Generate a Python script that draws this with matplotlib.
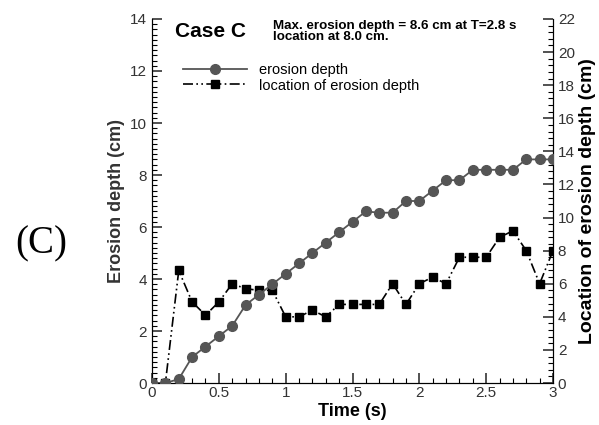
import numpy as np
import matplotlib.pyplot as plt
from matplotlib.ticker import MultipleLocator

# 时间 (s)
t = [0.0, 0.1, 0.2, 0.3, 0.4, 0.5, 0.6, 0.7, 0.8, 0.9, 1.0,
     1.1, 1.2, 1.3, 1.4, 1.5, 1.6, 1.7, 1.8, 1.9, 2.0,
     2.1, 2.2, 2.3, 2.4, 2.5, 2.6, 2.7, 2.8, 2.9, 3.0]
# 冲刷深度 (cm)
depth = [0.0, 0.0, 0.15, 1.0, 1.4, 1.8, 2.2, 3.0, 3.4, 3.8, 4.2,
         4.6, 5.0, 5.4, 5.8, 6.2, 6.6, 6.55, 6.55, 7.0, 7.0,
         7.4, 7.8, 7.8, 8.2, 8.2, 8.2, 8.2, 8.6, 8.6, 8.6]
# 冲刷位置 (cm)
location = [0.0, 0.0, 6.8, 4.9, 4.1, 4.9, 6.0, 5.7, 5.6, 5.6, 4.0,
            4.0, 4.4, 4.0, 4.75, 4.75, 4.75, 4.75, 6.0, 4.75, 6.0,
            6.4, 6.0, 7.6, 7.6, 7.6, 8.8, 9.2, 8.0, 6.0, 8.0]

plt.rcParams['font.family'] = ['Liberation Sans', 'DejaVu Sans']
plt.rcParams['xtick.direction'] = 'in'
plt.rcParams['ytick.direction'] = 'in'

fig = plt.figure(figsize=(5.99, 4.25), dpi=100)
ax = fig.add_axes([0.2538, 0.0988, 0.6694, 0.8565])
ax2 = ax.twinx()

l1, = ax.plot(t, depth, color='#555555', lw=1.3, marker='o', ms=7,
              mfc='#555555', mec='#555555', label='erosion depth', zorder=3)
l2, = ax2.plot(t, location, color='black', lw=1.2, linestyle=(0, (6, 2, 1, 2, 1, 2)),
               marker='s', ms=5.5, mfc='black', mec='black',
               label='location of erosion depth')

ax.set_xlim(0, 3)
ax.set_ylim(0, 14)
ax2.set_ylim(0, 22)
for a in (ax, ax2):
    a.spines['top'].set_visible(False)
ax.set_zorder(1)
ax2.set_zorder(0)
ax.patch.set_visible(False)

ax.xaxis.set_major_locator(MultipleLocator(0.5))
ax.xaxis.set_minor_locator(MultipleLocator(0.1))
ax.yaxis.set_major_locator(MultipleLocator(2))
ax.yaxis.set_minor_locator(MultipleLocator(0.2))
ax2.yaxis.set_major_locator(MultipleLocator(2))
ax2.yaxis.set_minor_locator(MultipleLocator(0.4))
ax.set_xticks([0, 0.5, 1, 1.5, 2, 2.5, 3])
ax.set_xticklabels(['0', '0.5', '1', '1.5', '2', '2.5', '3'])

for a in (ax, ax2):
    a.tick_params(which='major', length=7, width=1.2, labelsize=11, colors='#333333')
    a.tick_params(which='minor', length=3.5, width=0.8)
ax.tick_params(axis='x', pad=2)

ax.set_xlabel('Time (s)', fontsize=13, fontweight='bold', labelpad=2)
ax.set_ylabel('Erosion depth (cm)', fontsize=13, fontweight='bold', color='#333333', labelpad=4)
ax2.set_ylabel('Location of erosion depth (cm)', fontsize=14, fontweight='bold', labelpad=3)

fig.text(0.292, 0.925, 'Case C', fontsize=15, fontweight='bold', va='center')
fig.text(0.455, 0.925, 'Max. erosion depth = 8.6 cm at T=2.8 s\nlocation at 8.0 cm.',
         fontsize=9.6, fontweight='bold', va='center', linespacing=0.9)
fig.text(0.025, 0.425, '(C)', fontsize=28, family='Liberation Serif', va='center')

ax.legend(handles=[l1, l2], loc='upper left', bbox_to_anchor=(0.062, 0.895),
          frameon=False, fontsize=10.5, handlelength=4.4, handletextpad=0.8,
          labelspacing=0.1, borderaxespad=0)

plt.savefig('out.png', dpi=100)
